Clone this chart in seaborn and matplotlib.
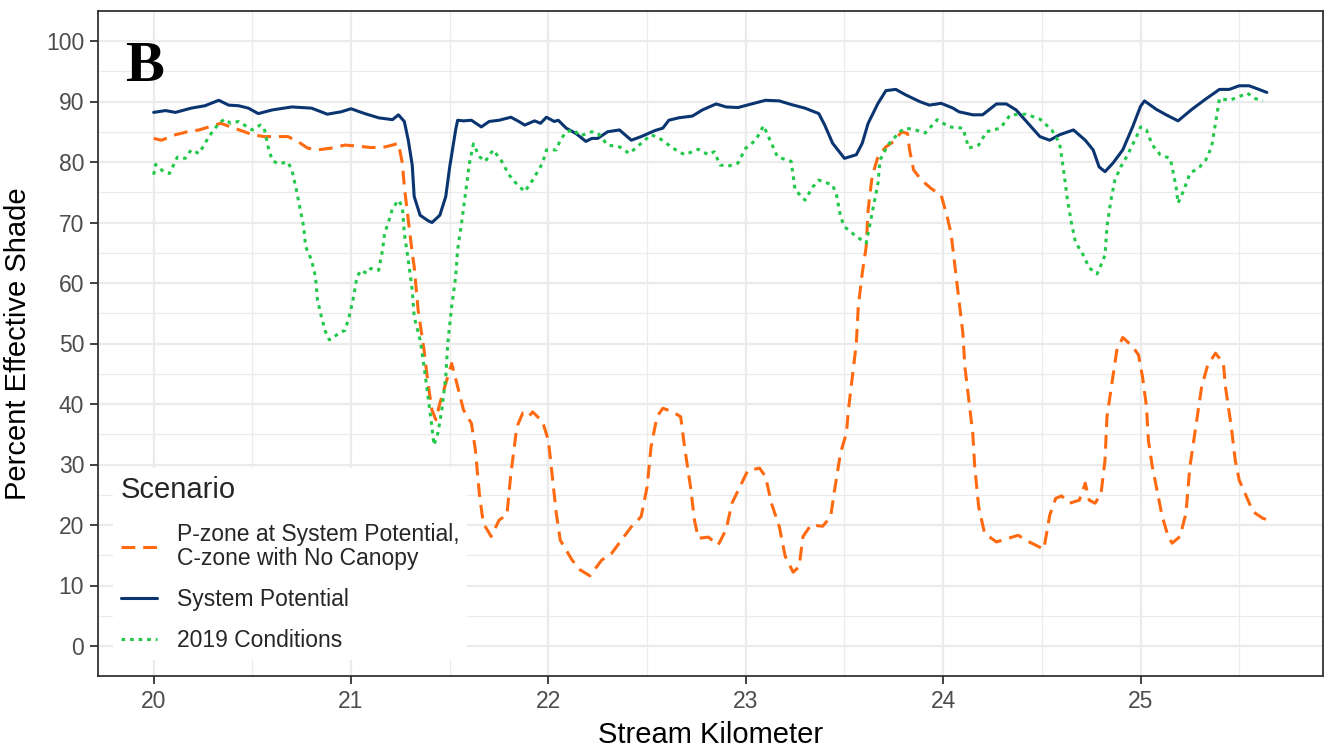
import numpy as np
import pandas as pd
import matplotlib
matplotlib.use("Agg")
import matplotlib.pyplot as plt
from matplotlib.ticker import MultipleLocator
import seaborn as sns

# ---- data: percent effective shade along the stream ----
sys_km = [20.00, 20.06, 20.11, 20.19, 20.26, 20.33, 20.38, 20.43, 20.48, 20.53, 20.60, 20.70,
          20.80, 20.88, 20.95, 21.00, 21.07, 21.14, 21.21, 21.24, 21.27, 21.29, 21.31, 21.32,
          21.35, 21.39, 21.41, 21.45, 21.48, 21.50, 21.53, 21.54, 21.57, 21.61, 21.66, 21.70,
          21.75, 21.81, 21.85, 21.88, 21.93, 21.96, 21.99, 22.03, 22.05, 22.09, 22.14, 22.19,
          22.22, 22.25, 22.30, 22.36, 22.42, 22.47, 22.54, 22.58, 22.61, 22.66, 22.73, 22.78,
          22.85, 22.90, 22.96, 23.03, 23.10, 23.17, 23.23, 23.30, 23.37, 23.40, 23.44, 23.50,
          23.56, 23.59, 23.62, 23.67, 23.71, 23.76, 23.81, 23.88, 23.93, 23.99, 24.05, 24.08,
          24.15, 24.20, 24.27, 24.32, 24.37, 24.43, 24.49, 24.54, 24.59, 24.66, 24.72, 24.76,
          24.79, 24.82, 24.86, 24.91, 24.96, 25.00, 25.02, 25.08, 25.13, 25.19, 25.26, 25.33,
          25.40, 25.45, 25.50, 25.55, 25.60, 25.64]
sys_val = [88.2, 88.5, 88.2, 88.9, 89.3, 90.2, 89.4, 89.3, 88.9, 88.0, 88.6, 89.1,
           88.9, 87.9, 88.3, 88.8, 88.0, 87.3, 87.0, 87.8, 86.7, 83.6, 79.5, 74.3,
           71.2, 70.3, 70.0, 71.2, 74.3, 79.2, 85.3, 86.9, 86.8, 86.9, 85.8, 86.7,
           86.9, 87.4, 86.7, 86.1, 86.8, 86.4, 87.4, 86.7, 86.9, 85.6, 84.7, 83.4,
           83.9, 83.9, 85.0, 85.3, 83.6, 84.2, 85.2, 85.6, 86.9, 87.3, 87.6, 88.6,
           89.6, 89.1, 89.0, 89.6, 90.2, 90.1, 89.5, 88.9, 88.0, 86.1, 83.1, 80.6,
           81.2, 83.1, 86.4, 89.7, 91.8, 92.0, 91.1, 90.0, 89.4, 89.7, 88.9, 88.3,
           87.8, 87.8, 89.6, 89.6, 88.6, 86.4, 84.2, 83.6, 84.5, 85.3, 83.6, 82.0,
           79.2, 78.4, 79.8, 82.0, 85.8, 89.2, 90.1, 88.7, 87.8, 86.8, 88.7, 90.4,
           92.0, 92.0, 92.6, 92.6, 92.0, 91.5]

pz_km = [20.00, 20.04, 20.11, 20.17, 20.23, 20.28, 20.34, 20.39, 20.46, 20.50, 20.56, 20.61,
         20.68, 20.73, 20.78, 20.83, 20.90, 20.97, 21.04, 21.10, 21.16, 21.21, 21.24, 21.26,
         21.27, 21.29, 21.31, 21.32, 21.34, 21.37, 21.39, 21.41, 21.43, 21.45, 21.48, 21.51,
         21.54, 21.57, 21.61, 21.63, 21.65, 21.67, 21.71, 21.75, 21.79, 21.81, 21.84, 21.87,
         21.90, 21.92, 21.97, 22.00, 22.02, 22.04, 22.06, 22.12, 22.16, 22.21, 22.27, 22.32,
         22.37, 22.42, 22.47, 22.50, 22.52, 22.55, 22.58, 22.63, 22.67, 22.69, 22.72, 22.74,
         22.76, 22.81, 22.86, 22.90, 22.93, 22.97, 23.01, 23.07, 23.10, 23.13, 23.17, 23.20,
         23.24, 23.27, 23.29, 23.33, 23.39, 23.43, 23.45, 23.48, 23.51, 23.52, 23.54, 23.56,
         23.57, 23.59, 23.61, 23.62, 23.64, 23.67, 23.71, 23.75, 23.79, 23.82, 23.83, 23.85,
         23.89, 23.94, 23.99, 24.02, 24.04, 24.06, 24.08, 24.10, 24.11, 24.13, 24.15, 24.16,
         24.18, 24.21, 24.27, 24.33, 24.38, 24.43, 24.51, 24.54, 24.57, 24.60, 24.64, 24.69,
         24.72, 24.74, 24.77, 24.80, 24.82, 24.83, 24.86, 24.88, 24.91, 24.96, 24.99, 25.01,
         25.03, 25.04, 25.06, 25.09, 25.11, 25.14, 25.16, 25.20, 25.23, 25.25, 25.28, 25.31,
         25.34, 25.38, 25.42, 25.43, 25.46, 25.48, 25.50, 25.53, 25.57, 25.62, 25.64]
pz_val = [83.9, 83.6, 84.5, 85.0, 85.3, 85.8, 86.4, 85.8, 85.0, 84.5, 84.2, 84.2,
          84.2, 83.4, 82.3, 82.0, 82.3, 82.8, 82.6, 82.4, 82.4, 82.8, 83.1, 79.8,
          75.9, 70.5, 65.0, 62.7, 55.5, 48.9, 43.4, 39.0, 37.4, 40.1, 43.4, 46.7,
          42.9, 39.0, 36.8, 32.4, 25.2, 20.3, 18.1, 20.8, 21.7, 28.5, 36.2, 38.5,
          37.9, 38.7, 37.1, 34.0, 28.0, 21.9, 17.5, 14.2, 12.6, 11.6, 14.2, 15.3,
          17.5, 19.7, 21.4, 26.3, 32.9, 37.9, 39.3, 38.7, 37.9, 32.9, 26.3, 20.8,
          17.8, 18.0, 16.7, 19.2, 23.6, 26.3, 29.0, 29.4, 28.0, 23.6, 19.7, 14.8,
          12.2, 13.1, 18.1, 20.0, 19.8, 21.4, 25.8, 31.9, 35.2, 39.0, 44.5, 50.0,
          56.1, 61.6, 66.0, 72.1, 77.6, 80.9, 82.5, 83.4, 85.0, 84.7, 82.0, 78.7,
          77.0, 75.6, 74.5, 71.0, 68.2, 62.7, 57.2, 51.7, 46.2, 40.7, 35.2, 29.6,
          23.0, 18.6, 17.2, 17.8, 18.3, 17.3, 16.0, 21.6, 24.4, 24.8, 23.6, 24.1,
          26.9, 24.1, 23.6, 25.2, 30.7, 37.9, 44.5, 48.9, 51.0, 49.5, 48.1, 44.5,
          39.6, 34.0, 29.6, 24.7, 21.4, 18.1, 17.0, 18.1, 21.9, 29.6, 36.2, 42.9,
          46.4, 48.4, 46.7, 42.9, 36.2, 30.7, 27.4, 25.2, 22.2, 21.1, 20.9]

c19_km = [20.00, 20.01, 20.05, 20.08, 20.12, 20.16, 20.19, 20.23, 20.28, 20.33, 20.36, 20.39,
          20.43, 20.46, 20.50, 20.54, 20.56, 20.58, 20.60, 20.63, 20.68, 20.70, 20.72, 20.74,
          20.76, 20.77, 20.80, 20.82, 20.83, 20.85, 20.87, 20.89, 20.94, 20.97, 20.99, 21.01,
          21.03, 21.05, 21.08, 21.10, 21.14, 21.16, 21.17, 21.19, 21.21, 21.24, 21.26, 21.27,
          21.29, 21.31, 21.32, 21.35, 21.37, 21.39, 21.41, 21.42, 21.44, 21.46, 21.48, 21.49,
          21.51, 21.53, 21.54, 21.56, 21.58, 21.60, 21.62, 21.65, 21.68, 21.72, 21.76, 21.80,
          21.83, 21.88, 21.92, 21.97, 21.99, 22.04, 22.06, 22.09, 22.13, 22.16, 22.22, 22.25,
          22.30, 22.36, 22.41, 22.47, 22.52, 22.56, 22.63, 22.69, 22.76, 22.81, 22.84, 22.87,
          22.91, 22.96, 23.00, 23.05, 23.09, 23.13, 23.16, 23.20, 23.23, 23.25, 23.30, 23.34,
          23.37, 23.44, 23.46, 23.48, 23.50, 23.56, 23.61, 23.63, 23.65, 23.67, 23.68, 23.72,
          23.78, 23.81, 23.86, 23.91, 23.97, 24.03, 24.10, 24.13, 24.18, 24.22, 24.29, 24.34,
          24.42, 24.49, 24.55, 24.59, 24.61, 24.63, 24.65, 24.67, 24.71, 24.74, 24.78, 24.80,
          24.82, 24.83, 24.85, 24.87, 24.90, 24.93, 24.98, 25.00, 25.03, 25.06, 25.10, 25.15,
          25.16, 25.18, 25.19, 25.22, 25.25, 25.30, 25.33, 25.36, 25.38, 25.40, 25.45, 25.50,
          25.54, 25.58, 25.62]
c19_val = [77.9, 79.6, 78.4, 78.1, 80.8, 80.6, 82.0, 81.4, 84.2, 86.4, 87.1, 86.4,
           86.7, 86.1, 85.3, 86.1, 85.6, 82.5, 80.3, 79.7, 80.0, 78.7, 75.9, 72.6,
           69.3, 66.0, 63.8, 61.0, 57.2, 54.4, 52.0, 50.6, 51.7, 52.2, 54.4, 57.2,
           61.0, 62.1, 61.6, 62.4, 62.1, 65.5, 68.2, 70.1, 72.3, 73.7, 72.6, 68.2,
           63.8, 58.8, 54.4, 50.6, 46.2, 41.2, 36.2, 33.2, 35.2, 39.0, 44.5, 50.0,
           56.1, 61.0, 65.5, 69.9, 74.8, 79.8, 83.0, 80.9, 80.1, 82.0, 80.3, 77.9,
           76.7, 75.1, 77.0, 79.8, 82.0, 82.0, 83.6, 85.0, 85.3, 84.3, 85.0, 84.8,
           82.8, 82.5, 81.4, 83.1, 84.5, 84.0, 82.3, 81.2, 82.1, 81.2, 81.7, 79.5,
           79.3, 79.8, 82.3, 83.6, 86.0, 83.1, 80.9, 80.4, 80.1, 75.4, 73.7, 75.9,
           77.0, 76.2, 74.5, 71.0, 69.3, 67.7, 66.6, 69.9, 73.2, 76.5, 80.3, 82.8,
           85.0, 85.6, 85.3, 84.8, 87.0, 85.8, 85.6, 82.3, 82.8, 85.0, 85.6, 87.8,
           87.9, 87.1, 85.3, 83.1, 78.7, 73.7, 69.9, 66.8, 64.6, 62.5, 61.5, 63.0,
           64.6, 69.3, 73.7, 77.0, 79.2, 80.9, 84.2, 85.8, 85.3, 82.8, 81.2, 80.6,
           79.2, 75.9, 73.2, 75.4, 78.1, 79.2, 80.3, 82.5, 86.4, 90.5, 90.2, 90.8,
           91.4, 90.5, 90.1]

scenarios = ["P-zone at System Potential,\nC-zone with No Canopy",
             "System Potential",
             "2019 Conditions"]
colors = ["#FF6A10", "#0B3570", "#22C84A"]
y_ticks = list(range(0, 101, 10))
x_ticks = [20, 21, 22, 23, 24, 25]

df = pd.concat([
    pd.DataFrame({"km": pz_km, "shade": pz_val, "Scenario": scenarios[0]}),
    pd.DataFrame({"km": sys_km, "shade": sys_val, "Scenario": scenarios[1]}),
    pd.DataFrame({"km": c19_km, "shade": c19_val, "Scenario": scenarios[2]}),
], ignore_index=True)

sns.set_theme(style="white")
plt.rcParams["font.family"] = ["Liberation Sans", "DejaVu Sans"]

W, H = 1325, 749
fig = plt.figure(figsize=(W / 100, H / 100), dpi=100)
ax_l, ax_r, ax_t, ax_b = 98, 1322.5, 10.75, 676.25
ax = fig.add_axes([ax_l / W, 1 - ax_b / H, (ax_r - ax_l) / W, (ax_b - ax_t) / H])

lw = 2.2
sns.lineplot(
    data=df, x="km", y="shade", hue="Scenario", style="Scenario",
    hue_order=scenarios, style_order=scenarios,
    palette=dict(zip(scenarios, colors)),
    dashes={scenarios[0]: (4.5, 2.6), scenarios[1]: "", scenarios[2]: (1.2, 1.6)},
    estimator=None, sort=True, linewidth=lw, ax=ax, legend=True, zorder=3,
)

ax.set_xlim(19.718, 25.922)
ax.set_ylim(-5, 105)
ax.set_xticks(x_ticks)
ax.set_yticks(y_ticks)
ax.xaxis.set_minor_locator(MultipleLocator(0.5))
ax.yaxis.set_minor_locator(MultipleLocator(5))
ax.grid(which="major", color="#EBEBEB", linewidth=1.6, zorder=0)
ax.grid(which="minor", color="#EBEBEB", linewidth=0.9, zorder=0)
ax.set_axisbelow(True)
ax.set_facecolor("white")
for sp in ax.spines.values():
    sp.set_color("#333333")
    sp.set_linewidth(1.3)
ax.tick_params(axis="both", which="major", length=6, width=1.3, color="#333333",
               labelsize=16.5, labelcolor="#4D4D4D", pad=4, direction="out",
               bottom=True, left=True)
ax.tick_params(which="minor", length=0)

ax.set_xlabel("Stream Kilometer", fontsize=21, color="black", labelpad=6)
ax.set_ylabel("Percent Effective Shade", fontsize=21, color="black", labelpad=10)

ax.text(20.05, 93.4, "B", fontsize=42, fontweight="bold", ha="right", va="baseline",
        family=["Liberation Serif", "DejaVu Serif"], color="black", zorder=5)

handles, labels = ax.get_legend_handles_labels()
leg = ax.legend(handles, labels, title="Scenario", loc="lower left",
                bbox_to_anchor=(0.012, 0.024), borderaxespad=0,
                frameon=True, facecolor="white", edgecolor="white", framealpha=1,
                fontsize=16.5, title_fontsize=21, handlelength=1.6, handletextpad=0.85,
                labelspacing=0.8, borderpad=0.35, alignment="left")
leg.get_frame().set_linewidth(0)
leg.set_zorder(4)
for t in leg.get_texts():
    t.set_linespacing(1.05)

fig.savefig("out.png", dpi=100, facecolor="white")
